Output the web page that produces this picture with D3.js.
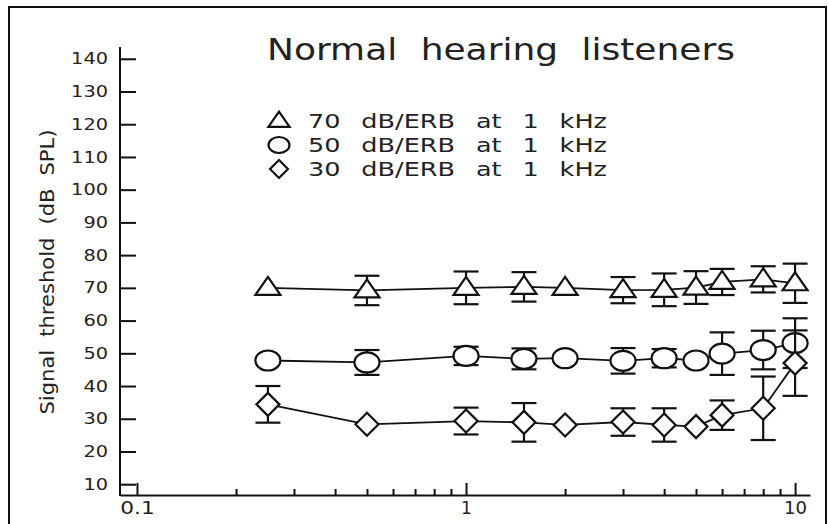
<!DOCTYPE html>
<html>
<head>
<meta charset="utf-8">
<script src="https://cdn.jsdelivr.net/npm/d3@7"></script>
<style>
  body { margin: 0; background: #fff; }
  svg text { font-family: "DejaVu Sans", sans-serif; fill: #222; }
  .axis path, .axis line { stroke: #111; }
</style>
</head>
<body>
<div id="vis"></div>
<script>
// frequencies (kHz)
var freqs = [0.25, 0.5, 1, 1.5, 2, 3, 4, 5, 6, 8, 10];
// 70 dB/ERB masker
var tri = [70, 69.2, 70, 70.3, 70, 69.3, 69.4, 70.1, 71.8, 72.6, 71.4];
var triErr = [0, 4.5, 5, 4.5, 0, 4, 5, 5, 4, 4, 6];
// 50 dB/ERB masker
var circ = [47.8, 47.2, 49.2, 48.3, 48.5, 47.7, 48.5, 47.8, 49.9, 51.0, 53.1];
var circErr = [0, 3.8, 2.8, 3.2, 0, 3.9, 2.8, 0, 6.5, 5.9, 7.6];
// 30 dB/ERB masker
var diam = [34.4, 28.3, 29.3, 28.9, 28.1, 29.0, 28.1, 27.6, 31.1, 33.2, 47.0];
var diamErr = [5.6, 0, 4.1, 5.9, 0, 4.2, 5.1, 0, 4.5, 9.7, 10];

var yTicks = d3.range(10, 141, 10);
var xMajor = [0.1, 1, 10];
var xMinor = [0.2, 0.3, 0.4, 0.5, 0.6, 0.7, 0.8, 0.9, 2, 3, 4, 5, 6, 7, 8, 9];
var legendLabels = ["70 dB/ERB at 1 kHz", "50 dB/ERB at 1 kHz", "30 dB/ERB at 1 kHz"];

var W = 828, H = 524;
var svg = d3.select("#vis").append("svg").attr("width", W).attr("height", H);

// outer frame
svg.append("rect").attr("x", 9).attr("y", 7).attr("width", 817).attr("height", 540)
  .attr("fill", "none").attr("stroke", "#111").attr("stroke-width", 2);

//Scales
var x = d3.scaleLog().domain([0.0888, 11.1]).range([120, 810]);
var y = d3.scaleLinear().domain([6.7, 143.6]).range([495, 47]);

// the plotter font is much wider than DejaVu, so stretch glyphs to the measured widths
function stretch(sel, perChar) {
  sel.attr("textLength", function() { return this.textContent.length * perChar; })
     .attr("lengthAdjust", "spacingAndGlyphs");
}

// y axis, ticks pointing inwards
var yAx = svg.append("g").attr("class", "axis").attr("transform", "translate(120,0)")
  .call(d3.axisLeft(y).tickValues(yTicks).tickSizeInner(-16).tickSizeOuter(0).tickPadding(12));
yAx.select(".domain").remove();
yAx.selectAll("line").attr("stroke-width", 2);
yAx.selectAll("text").style("font-size", "16px").attr("fill", "#222").call(stretch, 12.3);
svg.append("line").attr("x1", 120).attr("x2", 120).attr("y1", 47).attr("y2", 496)
  .attr("stroke", "#111").attr("stroke-width", 2);

// x axis: minor then major ticks
var xMin = svg.append("g").attr("class", "axis").attr("transform", "translate(0,495)")
  .call(d3.axisBottom(x).tickValues(xMinor).tickSizeInner(-6).tickSizeOuter(0).tickFormat(""));
xMin.select(".domain").attr("stroke-width", 2);
xMin.selectAll("line").attr("stroke-width", 2);
var xMaj = svg.append("g").attr("class", "axis").attr("transform", "translate(0,495)")
  .call(d3.axisBottom(x).tickValues(xMajor).tickSizeInner(-12).tickSizeOuter(0).tickPadding(7)
    .tickFormat(function(d) { return d3.format("")(d); }));
xMaj.select(".domain").remove();
xMaj.selectAll("line").attr("stroke-width", 2);
xMaj.selectAll("text").style("font-size", "17px").attr("fill", "#222")
  .filter(function(d) { return d != 1; }).call(stretch, 11.5);

// y label
svg.append("text")
  .attr("transform", "translate(54,272) rotate(-90)")
  .attr("text-anchor", "middle")
  .attr("textLength", 285).attr("lengthAdjust", "spacingAndGlyphs")
  .attr("word-spacing", 6)
  .style("font-size", "20px")
  .text("Signal threshold (dB SPL)");

// title
svg.append("text")
  .attr("x", 267).attr("y", 60)
  .attr("textLength", 468).attr("lengthAdjust", "spacingAndGlyphs")
  .attr("word-spacing", 10)
  .style("font-size", "30px")
  .text("Normal hearing listeners");

// marker shapes
function triPath(s) { return "M0," + (-11 * s) + "L" + (12.5 * s) + "," + (7 * s) + "L" + (-12.5 * s) + "," + (7 * s) + "Z"; }
function diaPath(s) { return "M0," + (-11.5 * s) + "L" + (11.5 * s) + ",0L0," + (11.5 * s) + "L" + (-11.5 * s) + ",0Z"; }

var series = [
  {vals: tri, err: triErr, shape: "tri"},
  {vals: circ, err: circErr, shape: "circ"},
  {vals: diam, err: diamErr, shape: "dia"}
];

var line = d3.line()
  .x(function(d) { return x(d.f); })
  .y(function(d) { return y(d.v); });

series.forEach(function(s) {
  var pts = freqs.map(function(f, i) { return {f: f, v: s.vals[i], e: s.err[i]}; });

  svg.append("path").datum(pts)
    .attr("d", line).attr("fill", "none").attr("stroke", "#111").attr("stroke-width", 1.8);

  // error bars
  var eb = svg.selectAll(null).data(pts.filter(function(d) { return d.e > 0; }))
    .enter().append("g").attr("stroke", "#111").attr("stroke-width", 2.2);
  eb.append("line")
    .attr("x1", function(d) { return x(d.f); }).attr("x2", function(d) { return x(d.f); })
    .attr("y1", function(d) { return y(d.v + d.e); }).attr("y2", function(d) { return y(d.v - d.e); });
  eb.append("line")
    .attr("x1", function(d) { return x(d.f) - 12.5; }).attr("x2", function(d) { return x(d.f) + 12.5; })
    .attr("y1", function(d) { return y(d.v + d.e); }).attr("y2", function(d) { return y(d.v + d.e); });
  eb.append("line")
    .attr("x1", function(d) { return x(d.f) - 12.5; }).attr("x2", function(d) { return x(d.f) + 12.5; })
    .attr("y1", function(d) { return y(d.v - d.e); }).attr("y2", function(d) { return y(d.v - d.e); });

  // markers
  var mk = svg.selectAll(null).data(pts).enter().append("g")
    .attr("transform", function(d) { return "translate(" + x(d.f) + "," + y(d.v) + ")"; });
  if (s.shape == "circ") {
    mk.append("ellipse").attr("rx", 12.5).attr("ry", 10);
  } else {
    mk.append("path").attr("d", s.shape == "tri" ? triPath(1) : diaPath(1));
  }
  mk.selectAll("*").attr("fill", "#fff").attr("stroke", "#111").attr("stroke-width", 2.2);
});

// legend
var leg = svg.selectAll("g.leg").data(legendLabels).enter().append("g")
  .attr("class", "leg")
  .attr("transform", function(d, i) { return "translate(279," + (121 + i * 24) + ")"; });
leg.each(function(d, i) {
  var g = d3.select(this);
  if (i == 1) g.append("ellipse").attr("rx", 10.5).attr("ry", 8);
  else g.append("path").attr("d", i == 0 ? triPath(0.85) : diaPath(0.78));
  g.selectAll("*").attr("fill", "#fff").attr("stroke", "#111").attr("stroke-width", 2.2);
});
leg.append("text")
  .attr("x", 29).attr("y", 7)
  .attr("textLength", 299).attr("lengthAdjust", "spacingAndGlyphs")
  .attr("word-spacing", 10)
  .style("font-size", "20px")
  .text(function(d) { return d; });
</script>
</body>
</html>
